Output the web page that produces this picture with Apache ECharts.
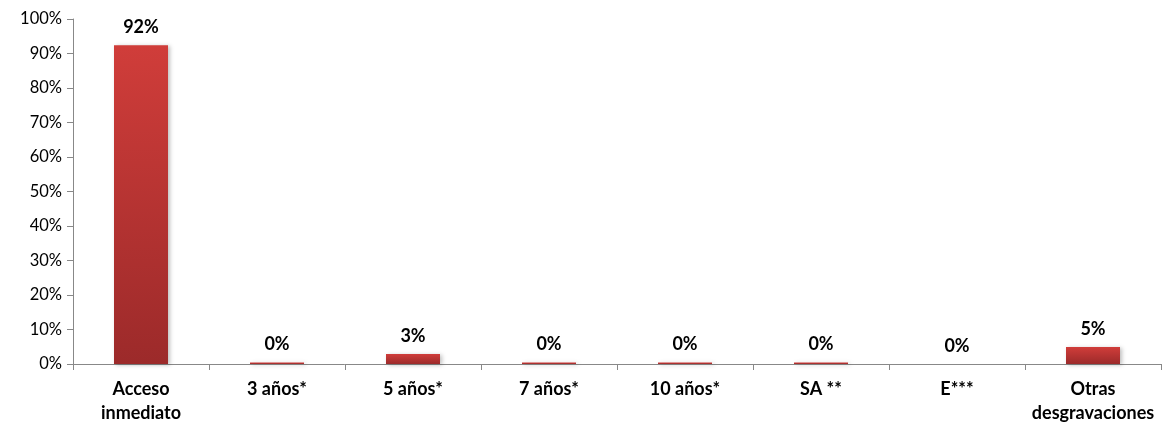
<!DOCTYPE html>
<html><head><meta charset="utf-8">
<script src="https://cdn.jsdelivr.net/npm/echarts@6/dist/echarts.min.js"></script>
<style>html,body{margin:0;padding:0;background:#fff}#c{width:1162px;height:427px}</style>
</head><body><div id="c"></div>
<script>
const categories = ["Acceso\ninmediato", "3 años*", "5 años*", "7 años*", "10 años*", "SA **", "E***", "Otras\ndesgravaciones"];
const values = [92.4, 0.45, 2.9, 0.45, 0.45, 0.45, 0, 4.9];
const yTicks = [0, 10, 20, 30, 40, 50, 60, 70, 80, 90, 100];

const font = "Lato, 'Open Sans', sans-serif";
const chart = echarts.init(document.getElementById('c'));
chart.setOption({
  animation: false,
  grid: {left: 73, right: 1, top: 19, bottom: 63},
  xAxis: {
    type: 'category', data: categories,
    axisLine: {lineStyle: {color: '#888'}},
    axisTick: {show: true, length: 6, lineStyle: {color: '#888'}},
    axisLabel: {color: '#000', fontWeight: 'bold', fontSize: 18, fontFamily: font, margin: 13, lineHeight: 24, interval: 0}
  },
  yAxis: {
    type: 'value', min: yTicks[0], max: yTicks[yTicks.length - 1], interval: 10,
    axisLine: {show: true, lineStyle: {color: '#888'}},
    axisTick: {show: true, length: 6, lineStyle: {color: '#888'}},
    splitLine: {show: false},
    axisLabel: {color: '#000', fontSize: 16.5, fontFamily: font, margin: 11, formatter: v => v + '%'}
  },
  series: [{
    type: 'bar', data: values, barWidth: 54,
    itemStyle: {
      color: new echarts.graphic.LinearGradient(0, 0, 0, 1, [
        {offset: 0, color: '#d03d3a'}, {offset: 1, color: '#9c2a2a'}
      ]),
      shadowColor: 'rgba(0,0,0,0.25)', shadowBlur: 4, shadowOffsetX: 2, shadowOffsetY: 1
    },
    label: {
      show: true, position: 'top', distance: 9, color: '#000', fontWeight: 'bold', fontSize: 18, fontFamily: font,
      formatter: p => Math.round(p.value) + '%'
    }
  }]
});
</script></body></html>
